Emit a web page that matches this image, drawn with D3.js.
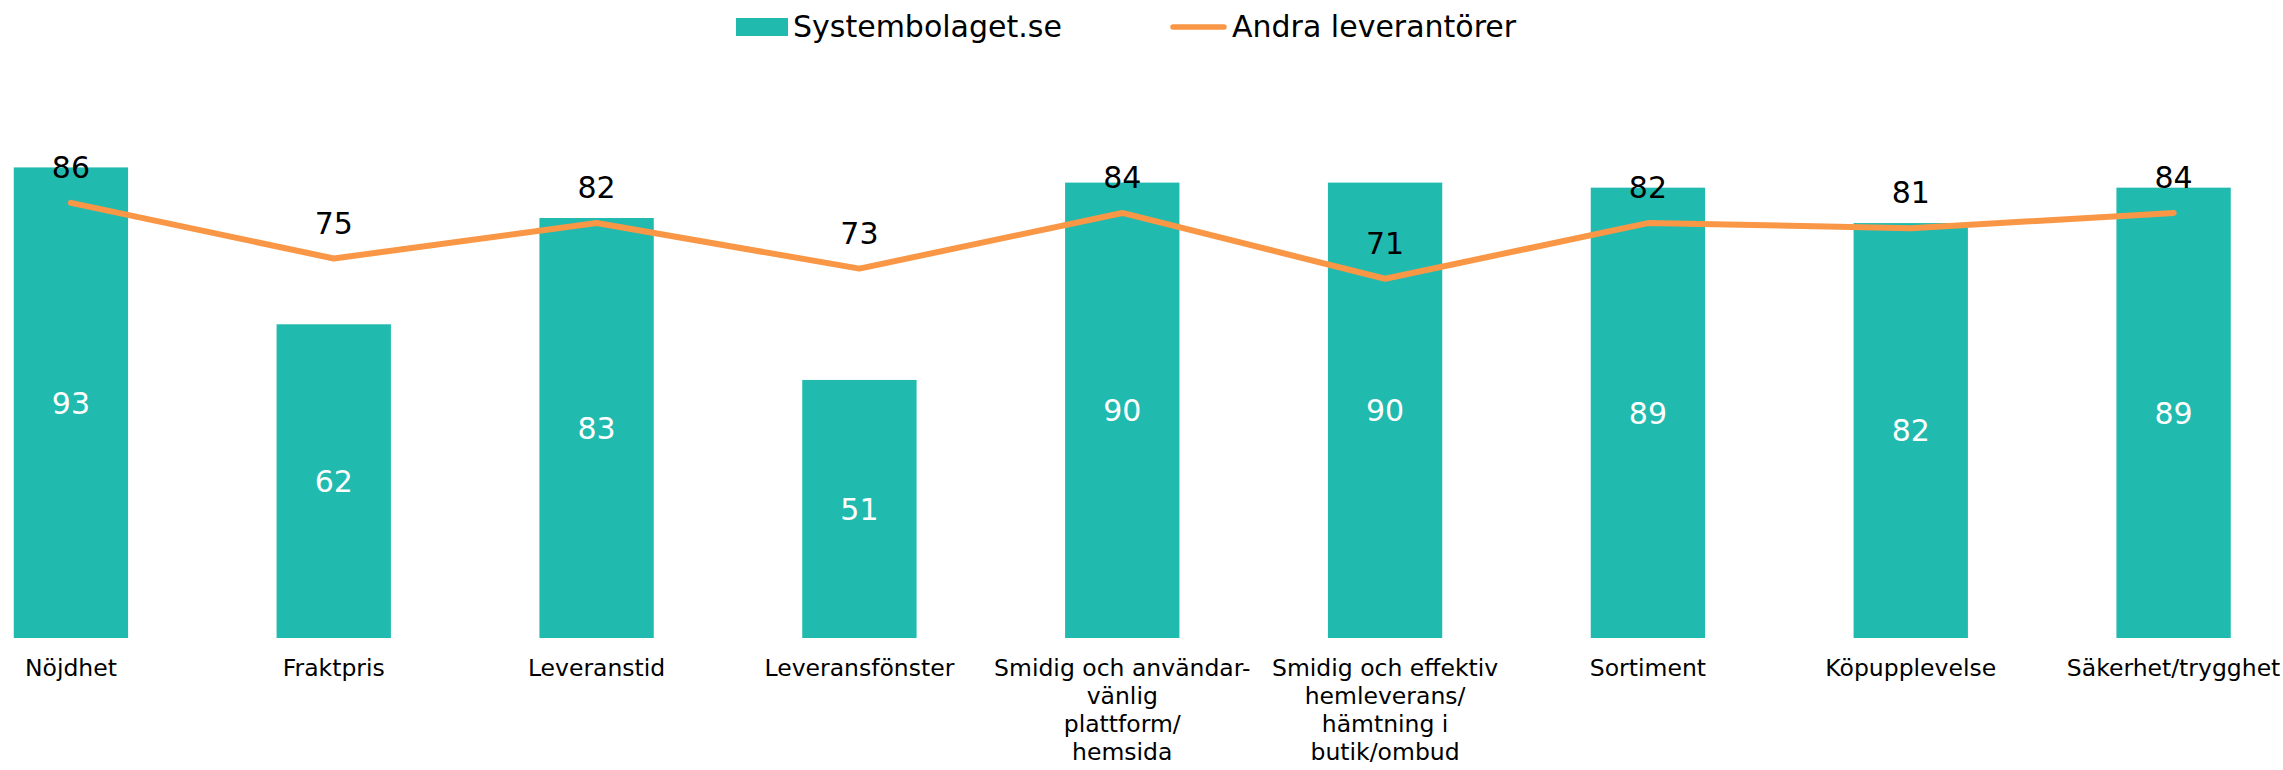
<!DOCTYPE html>
<html>
<head>
<meta charset="utf-8">
<script src="https://cdn.jsdelivr.net/npm/d3@7"></script>
<style>
  html, body { margin: 0; padding: 0; background: #fff; }
  svg { display: block; font-family: "DejaVu Sans", sans-serif; }
</style>
</head>
<body>
<svg id="chart" width="2283" height="770"></svg>
<script>
const categories = ["Nöjdhet", "Fraktpris", "Leveranstid", "Leveransfönster",
  "Smidig och användar-vänlig plattform/hemsida",
  "Smidig och effektiv hemleverans/hämtning i butik/ombud",
  "Sortiment", "Köpupplevelse", "Säkerhet/trygghet"];
const categoryLines = [
  ["Nöjdhet"], ["Fraktpris"], ["Leveranstid"], ["Leveransfönster"],
  ["Smidig och användar-", "vänlig", "plattform/", "hemsida"],
  ["Smidig och effektiv", "hemleverans/", "hämtning i", "butik/ombud"],
  ["Sortiment"], ["Köpupplevelse"], ["Säkerhet/trygghet"]
];
const seriesNames = ["Systembolaget.se", "Andra leverantörer"];
const systembolaget = [93, 62, 83, 51, 90, 90, 89, 82, 89];
const andra = [86, 75, 82, 73, 84, 71, 82, 81, 84];

const teal = "#21BAAE";
const orange = "#F99746";

const svg = d3.select("#chart");

const x = d3.scaleBand().domain(categories).range([-60.5, 2305])
  .paddingInner(0.565).paddingOuter(0.2825);
const y = d3.scaleLinear().domain([0, 100]).range([638, 132]);

// bars
svg.append("g").selectAll("rect").data(categories).join("rect")
  .attr("x", d => x(d))
  .attr("y", (d, i) => y(systembolaget[i]))
  .attr("width", x.bandwidth())
  .attr("height", (d, i) => y(0) - y(systembolaget[i]))
  .attr("fill", teal);

// bar labels
svg.append("g").selectAll("text").data(categories).join("text")
  .attr("x", d => x(d) + x.bandwidth() / 2)
  .attr("y", (d, i) => (y(systembolaget[i]) + y(0)) / 2)
  .attr("dy", "0.36em")
  .attr("text-anchor", "middle")
  .attr("font-size", 30)
  .attr("fill", "#fff")
  .text((d, i) => systembolaget[i]);

// line
const line = d3.line()
  .x((d, i) => x(categories[i]) + x.bandwidth() / 2)
  .y(d => y(d));
svg.append("path").datum(andra)
  .attr("d", line)
  .attr("fill", "none")
  .attr("stroke", orange)
  .attr("stroke-width", 6)
  .attr("stroke-linejoin", "round")
  .attr("stroke-linecap", "round");

// line labels
svg.append("g").selectAll("text").data(andra).join("text")
  .attr("x", (d, i) => x(categories[i]) + x.bandwidth() / 2)
  .attr("y", d => y(d) - 25)
  .attr("text-anchor", "middle")
  .attr("font-size", 30)
  .attr("fill", "#000")
  .text(d => d);

// x axis labels
const xAxis = svg.append("g");
categories.forEach((c, i) => {
  const t = xAxis.append("text")
    .attr("x", x(c) + x.bandwidth() / 2)
    .attr("y", 676)
    .attr("text-anchor", "middle")
    .attr("font-size", 23.5)
    .attr("fill", "#000");
  categoryLines[i].forEach((ln, j) => {
    t.append("tspan")
      .attr("x", x(c) + x.bandwidth() / 2)
      .attr("dy", j === 0 ? 0 : 28)
      .text(ln);
  });
});

// legend
const legend = svg.append("g");
legend.append("rect").attr("x", 736).attr("y", 18).attr("width", 52).attr("height", 18).attr("fill", teal);
legend.append("text").attr("x", 793).attr("y", 37).attr("font-size", 30).attr("fill", "#000").text(seriesNames[0]);
legend.append("line").attr("x1", 1173).attr("x2", 1224).attr("y1", 27).attr("y2", 27)
  .attr("stroke", orange).attr("stroke-width", 5.5).attr("stroke-linecap", "round");
legend.append("text").attr("x", 1232).attr("y", 37).attr("font-size", 30).attr("fill", "#000").text(seriesNames[1]);
</script>
</body>
</html>
